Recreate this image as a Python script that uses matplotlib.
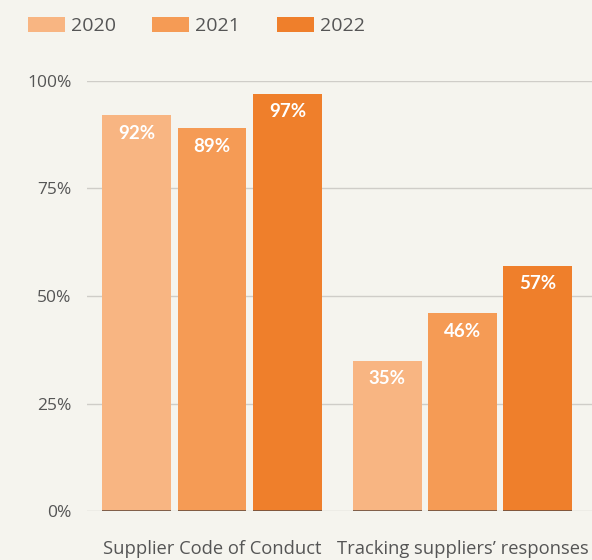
import numpy as np
import matplotlib.pyplot as plt

# --- data ---
categories = ['Supplier Code of Conduct', 'Tracking suppliers\u2019 responses']
years = ['2020', '2021', '2022']
values = {
    '2020': [92, 35],
    '2021': [89, 46],
    '2022': [97, 57],
}
yticks = [0, 25, 50, 75, 100]

# --- style ---
bg = '#F5F4EE'
colors = ['#F8B582', '#F59B55', '#EF7F2B']
text_col = '#555555'
plt.rcParams['font.family'] = ['Open Sans', 'DejaVu Sans']

fig = plt.figure(figsize=(5.92, 5.6), dpi=100, facecolor=bg)
ax = fig.add_axes([87 / 592, 1 - 511 / 560, 505 / 592, 430 / 560])
ax.set_facecolor(bg)

x = np.arange(len(categories))
width = 0.275
step = 0.301

for i, yr in enumerate(years):
    xs = x + (i - 1) * step
    bars = ax.bar(xs, values[yr], width=width, color=colors[i], label=yr, zorder=3)
    ax.hlines(np.zeros(len(xs)), xs - width / 2, xs + width / 2, color='#6b5040', lw=1.2, zorder=4)
    for b, v in zip(bars, values[yr]):
        ax.text(b.get_x() + b.get_width() / 2, v - 4.2, f'{v}%', ha='center', va='center',
                color='white', fontsize=13.5, fontweight='bold', family=['Lato', 'DejaVu Sans'],
                zorder=5)

ax.set_xlim(-0.499, 1.517)
ax.set_ylim(0, 100)
ax.set_yticks(yticks)
ax.set_yticklabels([f'{t}%' for t in yticks])
ax.yaxis.grid(True, color='#cfcdc8', lw=1, zorder=0)
ax.set_xticks(x)
ax.set_xticklabels(categories)
ax.tick_params(axis='y', length=0, pad=11, labelsize=12.5, labelcolor=text_col)
ax.tick_params(axis='x', length=0, pad=21, labelsize=13.2, labelcolor=text_col)
for s in ax.spines.values():
    s.set_visible(False)

fig.legend(loc='upper left', bbox_to_anchor=(18 / 592, 1 - 7 / 560), ncol=3, frameon=False,
           fontsize=14, handlelength=1.9, handleheight=0.8, handletextpad=0.3,
           columnspacing=1.9, borderpad=0, labelcolor=text_col)

fig.savefig('out.png', dpi=100, facecolor=bg)
